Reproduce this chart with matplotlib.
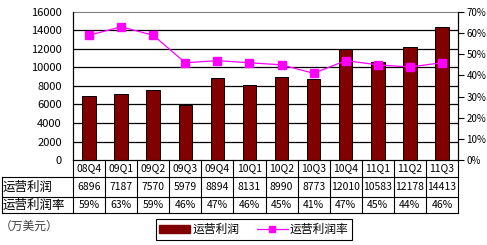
import numpy as np
import matplotlib
matplotlib.use('Agg')
from matplotlib import pyplot as plt
from matplotlib.lines import Line2D
from matplotlib.patches import Patch
from matplotlib.ticker import FuncFormatter

plt.rcParams['font.family'] = ['Noto Sans CJK SC', 'DejaVu Sans']

# data
quarters = ['08Q4', '09Q1', '09Q2', '09Q3', '09Q4', '10Q1', '10Q2', '10Q3',
            '10Q4', '11Q1', '11Q2', '11Q3']
profit = [6896, 7187, 7570, 5979, 8894, 8131, 8990, 8773, 12010, 10583, 12178, 14413]
margin = [59, 63, 59, 46, 47, 46, 45, 41, 47, 45, 44, 46]
row_names = ['运营利润', '运营利润率']
unit_label = '（万美元）'

W, H = 487, 245
fig = plt.figure(figsize=(W / 100, H / 100), dpi=100)
ax = fig.add_axes([73 / W, 85 / H, 385 / W, 148 / H])

x = np.arange(len(quarters))
ax.bar(x, profit, width=0.42, color='#800000', edgecolor='black', lw=0.7, zorder=3)
ax.set_xlim(-0.5, len(quarters) - 0.5)
ax.set_ylim(0, 16000)
ax.set_yticks(range(0, 16001, 2000))
ax.set_xticks([])
for v in range(2000, 16000, 2000):
    ax.axhline(v, color='black', lw=0.9, zorder=1)
ax.tick_params(axis='y', length=0, pad=8, labelsize=8)
ax.spines['top'].set_color('#808080')
for s in ['left', 'bottom', 'right']:
    ax.spines[s].set_color('black')

ax2 = ax.twinx()
ax2.plot(x, [m / 100 for m in margin], color='#FF00FF', lw=0.9,
         marker='s', ms=5.5, zorder=4)
ax2.set_ylim(0, 0.7)
ax2.set_yticks(np.arange(0, 0.71, 0.1))
ax2.yaxis.set_major_formatter(FuncFormatter(lambda v, p: '%d%%' % round(v * 100)))
ax2.tick_params(axis='y', length=4, width=0.8, pad=2, labelsize=7)
for lab in ax2.get_yticklabels():
    lab.set_fontstretch('condensed')
ax2.spines['top'].set_visible(False)

# data table under the plot, aligned with the categories
def fx(xd):
    return ax.transData.transform((xd, 0))[0] / W

def fy(py):
    return 1 - py / H

y_rows = [160, 177, 197, 213]
xl, xr = 2 / W, fx(len(quarters) - 0.5)
lk = dict(color='black', lw=0.8)
for yy in y_rows[1:]:
    fig.add_artist(Line2D([xl, xr], [fy(yy)] * 2, **lk))
fig.add_artist(Line2D([xl, xl], [fy(177), fy(213)], **lk))
for k in range(len(quarters) + 1):
    xx = fx(k - 0.5)
    fig.add_artist(Line2D([xx, xx], [fy(160), fy(213)], **lk))

for k, q in enumerate(quarters):
    xc = fx(k)
    fig.text(xc, fy(168.5), q, ha='center', va='center', fontsize=7.5)
    fig.text(xc, fy(187), str(profit[k]), ha='center', va='center', fontsize=7.5)
    fig.text(xc, fy(205), '%d%%' % margin[k], ha='center', va='center', fontsize=7.5)
fig.text(3 / W, fy(187), row_names[0], ha='left', va='center', fontsize=9)
fig.text(3 / W, fy(205), row_names[1], ha='left', va='center', fontsize=9)

fig.text(0 / W, fy(226), unit_label, ha='left', va='center', fontsize=8.5, color='#404040')

handles = [Patch(facecolor='#800000', edgecolor='#800000'),
           Line2D([], [], color='#FF00FF', lw=0.9, marker='s', ms=5)]
leg = fig.legend(handles, row_names, ncol=2, loc='center',
                 bbox_to_anchor=(254 / W, fy(229.5)), frameon=True, fancybox=False,
                 edgecolor='black', framealpha=1, fontsize=8.5, handlelength=2.6,
                 handleheight=0.6, handletextpad=0.2, columnspacing=1.5,
                 borderpad=0.3)
leg.get_frame().set_linewidth(0.8)

plt.savefig('out.png', dpi=100)
